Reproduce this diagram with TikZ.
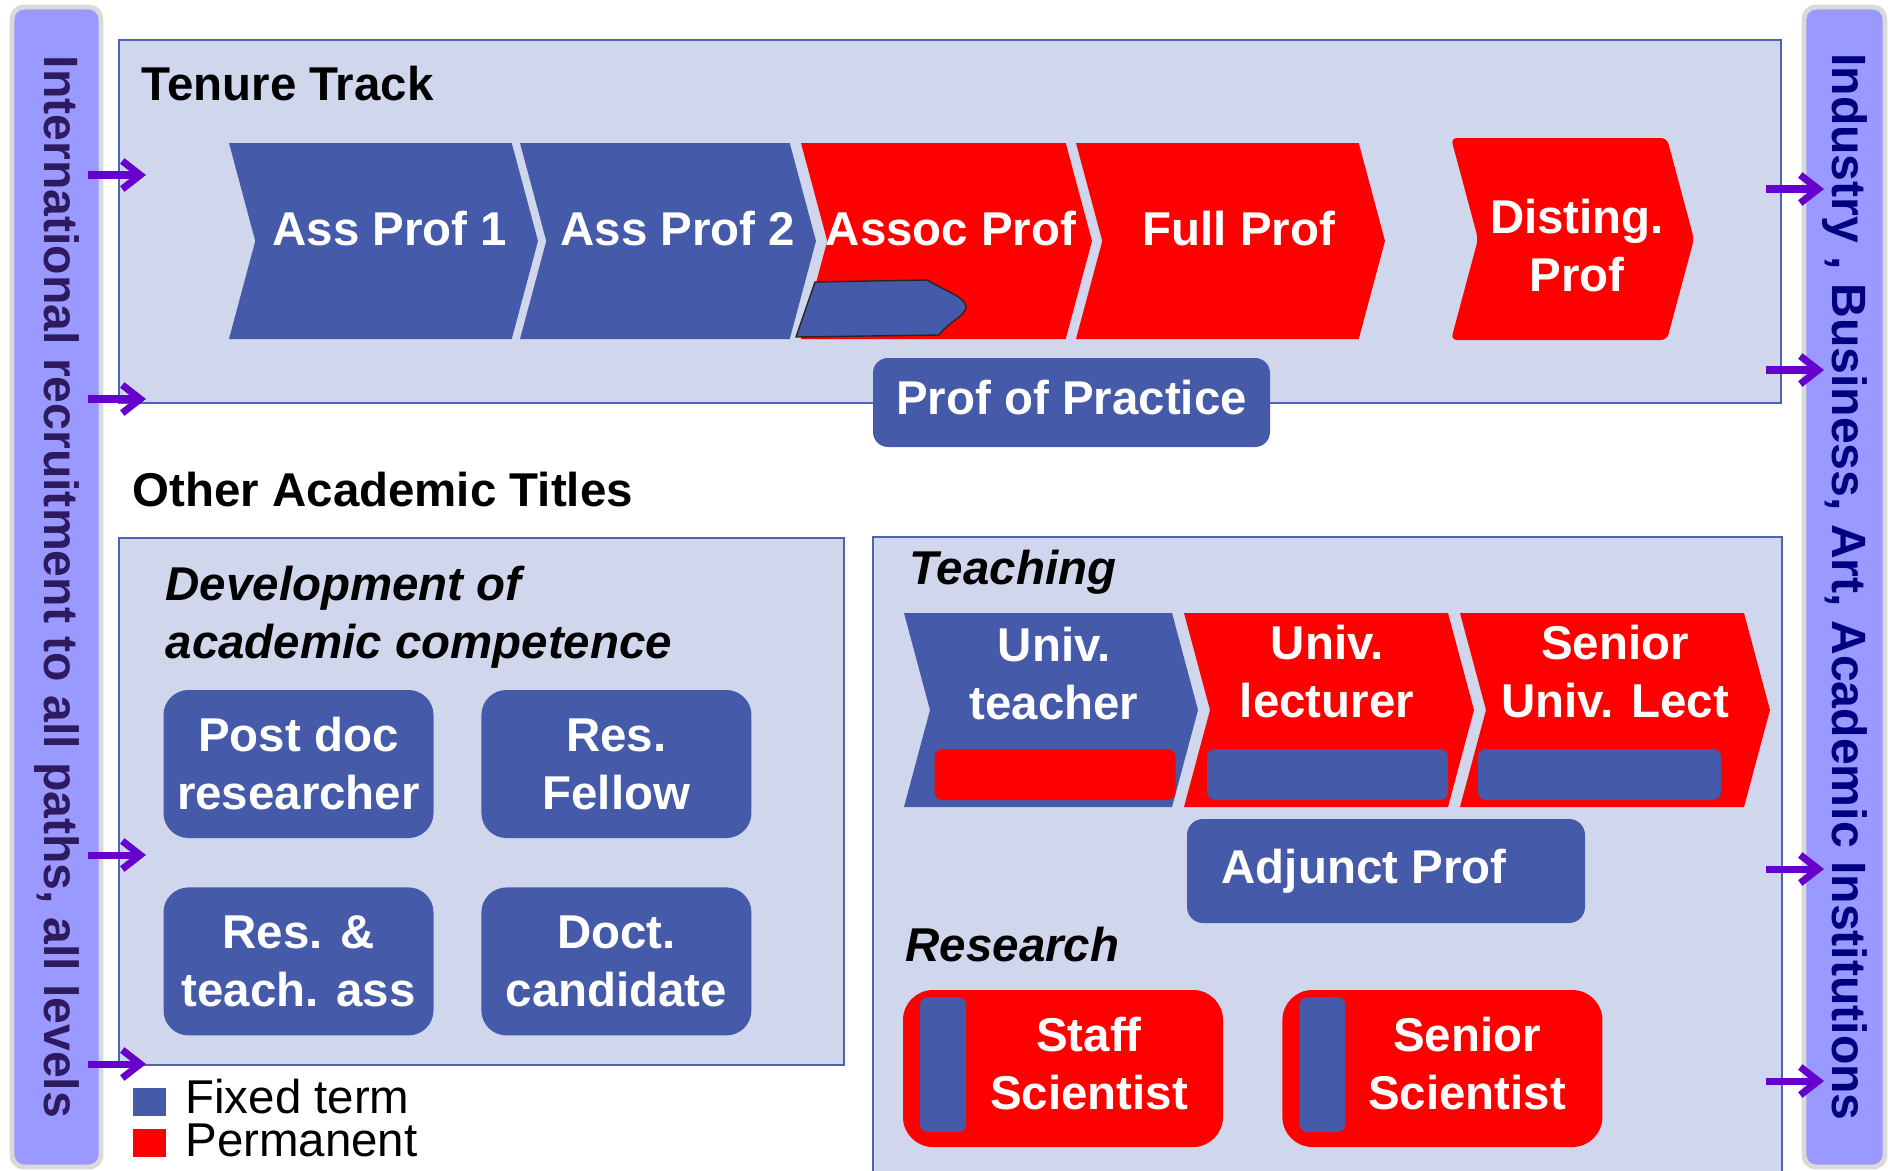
\documentclass[tikz,border=0pt]{standalone}
\usepackage{fontspec}
\setmainfont{Liberation Sans}
\usepackage{tikz}
\usetikzlibrary{arrows.meta, positioning, shapes.symbols}
\definecolor{fixblue}{RGB}{69,90,168}
\definecolor{permred}{RGB}{255,0,0}
\definecolor{panelbg}{RGB}{208,215,236}
\definecolor{panelline}{RGB}{78,98,178}
\definecolor{barfill}{RGB}{153,153,255}
\definecolor{barline}{RGB}{217,217,217}
\definecolor{leftink}{RGB}{46,26,94}
\definecolor{rightink}{RGB}{0,0,128}
\definecolor{flow}{RGB}{102,0,204}
\newcommand{\lblfont}{\bfseries\fontsize{13.5}{16.5}\selectfont}

\begin{document}
\begin{tikzpicture}[
  x=0.1mm, y=-0.1mm,
  panel/.style={fill=panelbg, draw=panelline, line width=0.6pt, inner sep=0pt},
  sidebar/.style={fill=barfill, draw=barline, line width=1.4pt, rounded corners=1.2mm, inner sep=0pt},
  bartext/.style={font=\bfseries\fontsize{13.7}{16}\selectfont, inner sep=0pt, rotate=-90},
  heading/.style={font=\lblfont, inner sep=0pt},
  subhead/.style={font=\lblfont\itshape, inner sep=0pt, align=left},
  chev/.style={signal, signal from=west, signal to=east, signal pointer angle=150, inner sep=0pt, minimum height=19.6mm},
  fixchev/.style={chev, fill=fixblue},
  permchev/.style={chev, fill=permred},
  chevtxt/.style={font=\lblfont, text=white, align=center, inner sep=0pt},
  role/.style={rounded corners=2.5mm, inner sep=0pt, font=\lblfont, text=white, align=center},
  fixrole/.style={role, fill=fixblue},
  permrole/.style={role, fill=permred},
  inbar/.style={rounded corners=0.8mm, inner sep=0pt},
  legkey/.style={minimum width=3.3mm, minimum height=2.8mm, inner sep=0pt},
  keytxt/.style={font=\fontsize{13.5}{16.5}\selectfont, inner sep=0pt, anchor=base west},
  flowarrow/.style={-{Straight Barb[length=1.8mm, width=2.8mm]}, draw=flow, line width=2pt}
]
\useasboundingbox (0,0) rectangle (1888,1170);

% --- Side bars ---
\node[sidebar, minimum width=8.9mm, minimum height=116mm] (lbar) at (56.5,587) {};
\node[sidebar, minimum width=8.1mm, minimum height=116mm] (rbar) at (1844.5,587) {};
\node[bartext, text=leftink] (ltext) at (lbar) {International recruitment to all paths, all levels};
\node[bartext, text=rightink] (rtext) at (rbar) {Industry , Business, Art, Academic Institutions};

% --- Tenure track ---
\node[panel, anchor=north west, minimum width=166.2mm, minimum height=36.3mm] (tenure) at (118,39) {};
\node[heading, anchor=base west] (tenuretitle) at (141,100) {Tenure Track};

\node[fixchev, minimum width=30.9mm] (ap1) at (383.5,241) {};
\node[fixchev, minimum width=29.6mm] (ap2) at (668,241) {};
\node[permchev, minimum width=29.1mm] (assoc) at (946.5,241) {};
\node[permchev, minimum width=30.9mm] (full) at (1230.5,241) {};
\node[permchev, minimum width=24.3mm, minimum height=20.2mm, rounded corners=0.6mm] (disting) at (1572.5,239) {};

% fixed-term part of Assoc Prof
\draw[fill=fixblue, draw=black!85, line width=0.4pt] (796,337) -- (815,282) -- (927,280)
  .. controls (948,292) and (966,298) .. (966,307)
  .. controls (966,316) and (948,322) .. (939,335) -- cycle;

\node[chevtxt] (ap1t) at (390,229) {Ass Prof 1};
\node[chevtxt] (ap2t) at (678,229) {Ass Prof 2};
\node[chevtxt] (assoct) at (951,229) {Assoc Prof};
\node[chevtxt] (fullt) at (1239,229) {Full Prof};
\node[chevtxt] (distingt) at (1577,246) {Disting.\\Prof};

\node[fixrole, rounded corners=1.5mm, minimum width=39.7mm, minimum height=8.9mm, text depth=1mm] (practice) at (1071.5,402.5) {Prof of Practice};

% --- Other academic titles ---
\node[heading, anchor=base west] (othertitle) at (132,506) {Other Academic Titles};

\node[panel, anchor=north west, minimum width=72.5mm, minimum height=52.7mm] (devpanel) at (118,537) {};
\node[subhead, anchor=north west] (devtitle) at (165,565) {Development of\\academic competence};

\node[fixrole, minimum width=27mm, minimum height=14.8mm] (postdoc) at (298.5,764) {Post doc\\researcher};
\node[fixrole, minimum width=27mm, minimum height=14.8mm, right=4.65mm of postdoc] (fellow) {Res.\\Fellow};
\node[fixrole, minimum width=27mm, minimum height=14.8mm, below=4.8mm of postdoc] (assist) {Res. \&\\teach. ass};
\node[fixrole, minimum width=27mm, minimum height=14.8mm, right=4.65mm of assist] (doct) {Doct.\\candidate};

% --- Teaching and research ---
\node[panel, draw=none, anchor=north west, minimum width=90.7mm, minimum height=63.8mm] (rolepanel) at (873,537) {};
\draw[draw=panelline, line width=0.6pt] (rolepanel.south west) |- (rolepanel.north east) -- (rolepanel.south east);

\node[subhead, anchor=base west] (teachtitle) at (909,584) {Teaching};

\node[fixchev, minimum width=29.4mm, minimum height=19.4mm] (uteach) at (1051,710) {};
\node[permchev, minimum width=29mm, minimum height=19.4mm] (ulect) at (1329,710) {};
\node[permchev, minimum width=31mm, minimum height=19.4mm] (slect) at (1615,710) {};

\node[inbar, fill=permred, minimum width=24.1mm, minimum height=5.1mm] (uteachbar) at (1055,774.5) {};
\node[inbar, fill=fixblue, minimum width=24.1mm, minimum height=5.1mm] (ulectbar) at (1327.5,774.5) {};
\node[inbar, fill=fixblue, minimum width=24.3mm, minimum height=5.1mm] (slectbar) at (1599.5,774.5) {};

\node[chevtxt] (uteacht) at (1054,674) {Univ.\\teacher};
\node[chevtxt] (ulectt) at (1327,672) {Univ.\\lecturer};
\node[chevtxt] (slectt) at (1615,672) {Senior\\Univ. Lect};

\node[fixrole, rounded corners=1.6mm, minimum width=39.8mm, minimum height=10.4mm] (adjunct) at (1386,871) {Adjunct Prof\hspace*{4.4mm}};

\node[subhead, anchor=base west] (restitle) at (905,961) {Research};

\node[permrole, rounded corners=3mm, minimum width=32mm, minimum height=15.7mm] (staff) at (1063,1068.5) {};
\node[permrole, rounded corners=3mm, minimum width=32mm, minimum height=15.7mm, right=5.8mm of staff] (senior) {};
\node[inbar, fill=fixblue, minimum width=4.6mm, minimum height=13.5mm, anchor=west] (staffbar) at ([xshift=1.7mm, yshift=0.4mm]staff.west) {};
\node[inbar, fill=fixblue, minimum width=4.6mm, minimum height=13.5mm, anchor=west] (seniorbar) at ([xshift=1.7mm, yshift=0.4mm]senior.west) {};
\node[chevtxt] (stafft) at (1089,1064) {Staff\\Scientist};
\node[chevtxt] (seniort) at (1467,1064) {Senior\\Scientist};

% --- Legend ---
\node[legkey, fill=fixblue] (fixkey) at (149.5,1101.5) {};
\node[legkey, fill=permred, below=1.2mm of fixkey] (permkey) {};
\node[keytxt] (fixlbl) at ([xshift=1.8mm, yshift=0.3mm]fixkey.south east) {Fixed term};
\node[keytxt] (permlbl) at ([xshift=1.8mm, yshift=0.1mm]permkey.south east) {Permanent};

% --- Arrows in and out ---
\foreach \y [count=\i] in {175,399,855,1064} {
  \coordinate (lin\i) at (146,\y);
  \draw[flowarrow] ([xshift=-5.8mm]lin\i) -- (lin\i);
}
\foreach \y [count=\i] in {189,370,869,1081} {
  \coordinate (rout\i) at (1824,\y);
  \draw[flowarrow] ([xshift=-5.8mm]rout\i) -- (rout\i);
}

\end{tikzpicture}
\end{document}
